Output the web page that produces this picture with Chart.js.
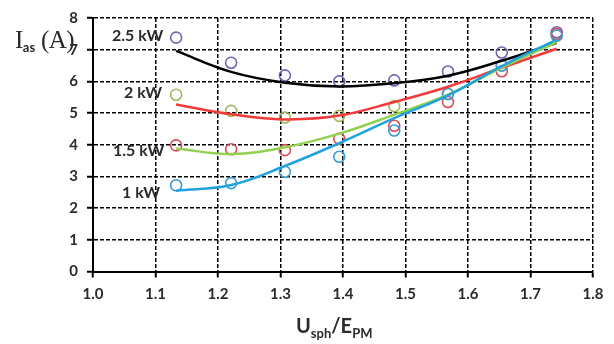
<!DOCTYPE html>
<html>
<head>
<meta charset="utf-8">
<script src="https://cdn.jsdelivr.net/npm/chart.js@4/dist/chart.umd.min.js"></script>
<style>
  html, body { margin: 0; padding: 0; background: #fff; }
  #wrap { position: relative; width: 614px; height: 344px; overflow: hidden; }
  canvas { position: absolute; left: 0; top: 0; }
  .lbl { position: absolute; font-family: Lato, "Open Sans", sans-serif; font-weight: 700; color: #2b2b2b; white-space: nowrap; }
  .ser { font-size: 16px; }
  #ytitle { position: absolute; left: 15px; top: 26px; font-family: "Liberation Serif", "DejaVu Serif", serif; font-size: 25px; color: #2b2b2b; white-space: nowrap; letter-spacing: -0.5px; }
  #ytitle sub { font-family: Lato, sans-serif; font-size: 13px; font-weight: 700; vertical-align: -4px; letter-spacing: 0; }
  #xtitle { position: absolute; left: 296px; top: 313px; font-family: Lato, "Open Sans", sans-serif; font-size: 20px; font-weight: 700; color: #2b2b2b; white-space: nowrap; }
  #xtitle sub { font-size: 13px; vertical-align: -5px; }
</style>
</head>
<body>
<div id="wrap">
  <canvas id="c" width="614" height="344"></canvas>
  <div id="ytitle">I<sub>as</sub> (A)</div>
  <div id="xtitle">U<sub>sph</sub>/E<sub>PM</sub></div>
  <div class="lbl ser" style="left:112px; top:25px;">2.5 kW</div>
  <div class="lbl ser" style="left:124px; top:82px;">2 kW</div>
  <div class="lbl ser" style="left:113px; top:140px;">1.5 kW</div>
  <div class="lbl ser" style="left:122px; top:182px;">1 kW</div>
</div>
<script>
// ---- data ----
const xValues = [1.133, 1.221, 1.307, 1.394, 1.482, 1.568, 1.654, 1.742];
const seriesNames = ['1 kW', '1.5 kW', '2 kW', '2.5 kW'];

// measured points (circles)
const points1kW  = [2.72, 2.79, 3.15, 3.62, 4.45, 5.60, 6.50, 7.45];
const points15kW = [3.98, 3.86, 3.83, 4.19, 4.60, 5.35, 6.32, 7.50];
const points2kW  = [5.58, 5.07, 4.86, 4.91, 5.22, 5.60, 6.50, 7.45];
const points25kW = [7.38, 6.59, 6.19, 6.00, 6.03, 6.31, 6.91, 7.55];

// fitted trend curves
const fit1kW  = [2.55, 2.73, 3.33, 4.05, 4.84, 5.56, 6.48, 7.32];
const fit15kW = [3.88, 3.71, 3.92, 4.35, 4.95, 5.58, 6.43, 7.24];
const fit2kW  = [5.27, 4.96, 4.80, 4.92, 5.35, 5.83, 6.43, 7.03];
const fit25kW = [6.96, 6.30, 5.96, 5.84, 5.94, 6.18, 6.65, 7.22];

const xTicks = [1.0, 1.1, 1.2, 1.3, 1.4, 1.5, 1.6, 1.7, 1.8];
const yTicks = [0, 1, 2, 3, 4, 5, 6, 7, 8];

const pts = (arr) => xValues.map((x, i) => ({ x: x, y: arr[i] }));

const markerColors = ['#3b9ad8', '#d9505a', '#9bbb59', '#7563b3'];
const lineColors   = ['#1fa3de', '#92d050', '#f23a3a', '#000000'];
const pointSets = [points1kW, points15kW, points2kW, points25kW];
const fitSets   = [fit1kW, fit15kW, fit2kW, fit25kW];

const datasets = [];
fitSets.forEach((f, i) => {
  datasets.push({
    label: seriesNames[i] + ' fit',
    type: 'line',
    data: pts(f),
    borderColor: lineColors[i],
    borderWidth: 2.5,
    pointRadius: 0,
    tension: 0.4,
    fill: false,
    order: 1
  });
});
pointSets.forEach((p, i) => {
  datasets.push({
    label: seriesNames[i],
    type: 'scatter',
    data: pts(p),
    showLine: false,
    pointStyle: 'circle',
    pointRadius: 5.5,
    pointBorderWidth: 1.6,
    pointBorderColor: markerColors[i],
    pointBackgroundColor: 'rgba(0,0,0,0)',
    borderColor: markerColors[i],
    backgroundColor: 'rgba(0,0,0,0)',
    order: 2
  });
});

const tickFont = { family: 'Lato, "Open Sans", sans-serif', size: 15, weight: 'bold' };

new Chart(document.getElementById('c'), {
  type: 'scatter',
  data: { datasets },
  options: {
    responsive: false,
    animation: false,
    events: [],
    layout: { padding: { left: 0, right: 21, top: 14, bottom: 0 } },
    plugins: { legend: { display: false }, tooltip: { enabled: false } },
    scales: {
      x: {
        type: 'linear',
        min: 1.0, max: 1.8,
        afterBuildTicks: (s) => { s.ticks = xTicks.map(v => ({ value: v })); },
        afterFit: (s) => { s.height = 72.5; },
        ticks: {
          color: '#2b2b2b', font: tickFont, padding: 8,
          callback: (v) => Number(v).toFixed(1)
        },
        grid: { color: '#000', lineWidth: 1.5, tickLength: 6, tickColor: '#000', tickWidth: 2, tickBorderDash: [] },
        border: { display: true, color: '#000', width: 2, dash: [4, 2] }
      },
      y: {
        type: 'linear',
        min: 0, max: 8,
        afterBuildTicks: (s) => { s.ticks = yTicks.map(v => ({ value: v })); },
        afterFit: (s) => { s.width = 93; },
        ticks: { color: '#2b2b2b', font: tickFont, padding: 9 },
        grid: { color: '#000', lineWidth: 1.5, tickLength: 6, tickColor: '#000', tickWidth: 2, tickBorderDash: [] },
        border: { display: true, color: '#000', width: 2, dash: [4, 2] }
      }
    }
  }
});
</script>
</body>
</html>
